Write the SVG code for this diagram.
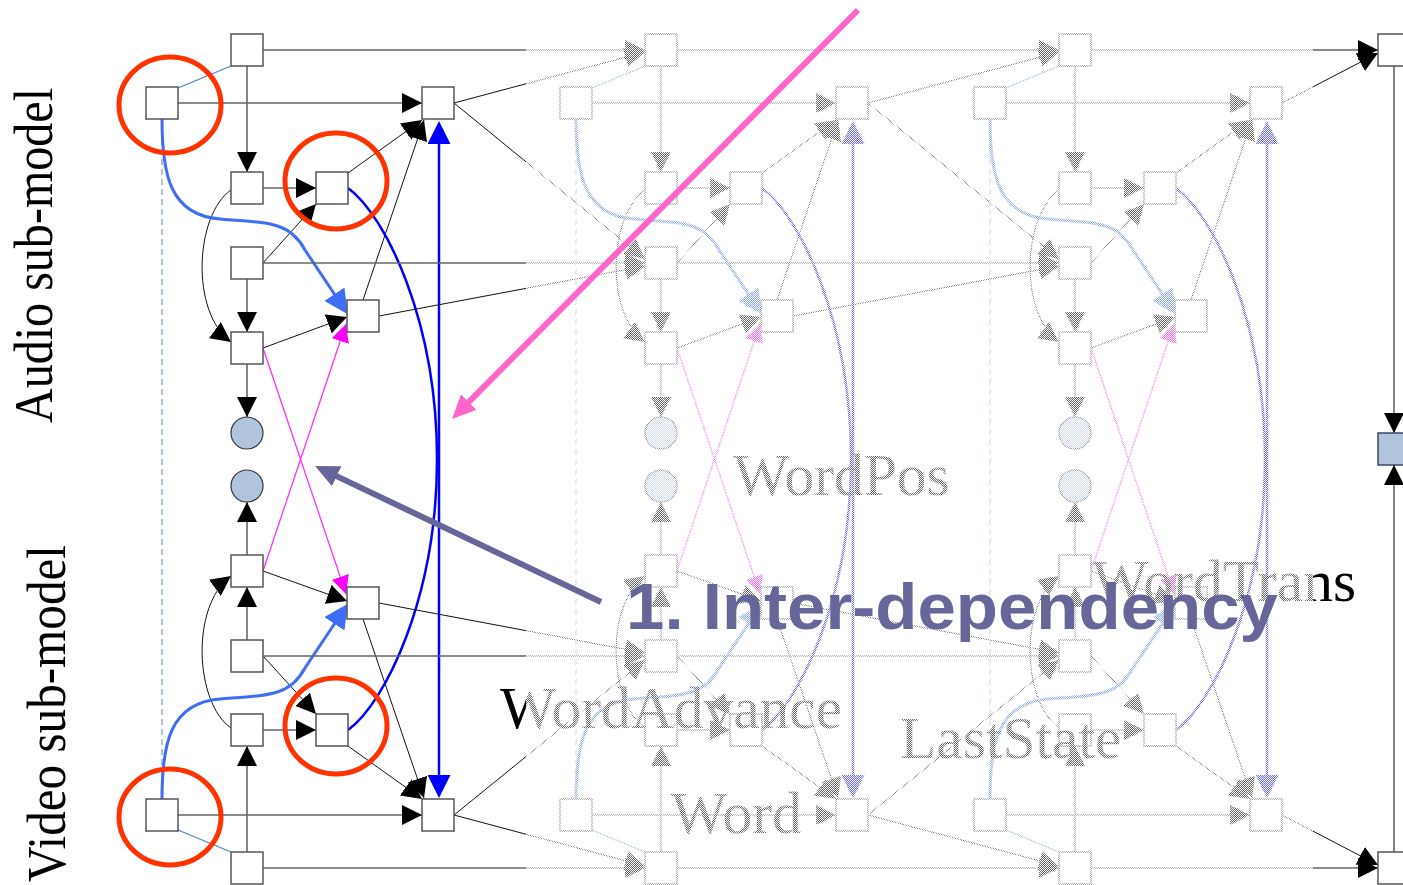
<svg xmlns="http://www.w3.org/2000/svg" width="1403" height="885" viewBox="0 0 1403 885">
<defs>
<style>
.box{fill:#fff;stroke:#555;stroke-width:1.5}
.obs{fill:#b0c4de;stroke:#333;stroke-width:1.2}
.st{fill:none;stroke:#666;stroke-width:1.6}
.dg{fill:none;stroke:#111;stroke-width:1}
.lb{fill:none;stroke:#4f7fd6;stroke-width:1.2}
.dash{fill:none;stroke:#8fb0e0;stroke-width:1.5;stroke-dasharray:6 4}
.bc{fill:none;stroke:#3d6ef5;stroke-width:3}
.db{fill:none;stroke:#0000ff;stroke-width:2.5}
.mg{fill:none;stroke:#ff22ff;stroke-width:1.2}
.lbl{font-family:"Liberation Serif","Times New Roman",serif;font-size:59.5px;fill:#000}
.side{font-family:"Liberation Serif","Times New Roman",serif;font-size:54px;fill:#000}
.ring{fill:none;stroke:#ff3300;stroke-width:5}
</style>
<marker id="ah" viewBox="0 0 20 20" refX="20" refY="10" markerWidth="20" markerHeight="20" markerUnits="userSpaceOnUse" orient="auto"><path d="M0,0 L20,10 L0,20 z" fill="#000"/></marker>
<marker id="ahm" viewBox="0 0 18 18" refX="18" refY="9" markerWidth="18" markerHeight="18" markerUnits="userSpaceOnUse" orient="auto"><path d="M0,0 L18,9 L0,18 z" fill="#ff00ff"/></marker>
<marker id="ahb" viewBox="0 0 24 24" refX="1" refY="12" markerWidth="24" markerHeight="24" markerUnits="userSpaceOnUse" orient="auto"><path d="M0,0 L24,12 L0,24 z" fill="#3d6ef5"/></marker>
<marker id="ahd" viewBox="0 0 23 23" refX="1" refY="11.5" markerWidth="23" markerHeight="23" markerUnits="userSpaceOnUse" orient="auto-start-reverse"><path d="M0,0 L23,11.5 L0,23 z" fill="#0000ff"/></marker>
<marker id="ahp" viewBox="0 0 24 22" refX="2" refY="11" markerWidth="24" markerHeight="22" markerUnits="userSpaceOnUse" orient="auto"><path d="M0,0 L24,11 L0,22 z" fill="#ff66cc"/></marker>
<marker id="ahv" viewBox="0 0 24 22" refX="2" refY="11" markerWidth="24" markerHeight="22" markerUnits="userSpaceOnUse" orient="auto"><path d="M0,0 L24,11 L0,22 z" fill="#666699"/></marker>
<!-- stipple screen used to grey out the repeated middle slices -->
<pattern id="halftone" width="2" height="2" patternUnits="userSpaceOnUse">
<rect width="2" height="2" fill="#fff" fill-opacity="0.4"/>
<rect width="1" height="1" fill="#fff"/>
<rect x="1" y="1" width="1" height="1" fill="#fff"/>
</pattern>
</defs>
<rect width="1403" height="885" fill="#fff"/>

<g id="connectors">
<!-- slice 0: edges inside the slice -->
<g id="edges-t0">
<line class="dash" x1="162" y1="119" x2="162" y2="799"/>
<line class="st" x1="178" y1="103" x2="422" y2="103" marker-end="url(#ah)"/>
<line class="lb" x1="178" y1="88" x2="231" y2="66"/>
<line class="st" x1="247" y1="66" x2="247" y2="172" marker-end="url(#ah)"/>
<line class="st" x1="263" y1="188" x2="316" y2="188" marker-end="url(#ah)"/>
<line class="dg" x1="263" y1="263" x2="316" y2="204" marker-end="url(#ah)"/>
<line class="dg" x1="348" y1="173" x2="422" y2="120" marker-end="url(#ah)"/>
<line class="dg" x1="363" y1="300" x2="424" y2="120" marker-end="url(#ah)"/>
<path class="dg" d="M231,190 C195,215 190,312 231,342" marker-end="url(#ah)"/>
<line class="st" x1="247" y1="279" x2="247" y2="332" marker-end="url(#ah)"/>
<line class="dg" x1="263" y1="348" x2="347" y2="317" marker-end="url(#ah)"/>
<line class="st" x1="247" y1="364" x2="247" y2="417" marker-end="url(#ah)"/>
<line class="mg" x1="263" y1="348" x2="346" y2="594" marker-end="url(#ahm)"/>
<line class="mg" x1="263" y1="571" x2="346" y2="324" marker-end="url(#ahm)"/>
<line class="st" x1="247" y1="555" x2="247" y2="502" marker-end="url(#ah)"/>
<line class="dg" x1="263" y1="571" x2="347" y2="601" marker-end="url(#ah)"/>
<line class="dg" x1="363" y1="619" x2="424" y2="798" marker-end="url(#ah)"/>
<line class="dg" x1="348" y1="746" x2="422" y2="799" marker-end="url(#ah)"/>
<line class="dg" x1="263" y1="656" x2="316" y2="714" marker-end="url(#ah)"/>
<line class="st" x1="263" y1="730" x2="316" y2="730" marker-end="url(#ah)"/>
<line class="st" x1="247" y1="852" x2="247" y2="746" marker-end="url(#ah)"/>
<line class="st" x1="247" y1="640" x2="247" y2="587" marker-end="url(#ah)"/>
<path class="dg" d="M231,728 C195,703 190,606 231,576" marker-end="url(#ah)"/>
<line class="st" x1="178" y1="815" x2="422" y2="815" marker-end="url(#ah)"/>
<line class="lb" x1="178" y1="830" x2="231" y2="852"/>
<path class="bc" d="M162,119 C162,175 170,215 220,219 C270,223 290,222 305,250 L335,295" marker-end="url(#ahb)"/>
<path class="bc" d="M162,799 C162,743 170,703 220,699 C270,695 290,696 305,668 L335,623" marker-end="url(#ahb)"/>
<path class="db" d="M348,188 C385,215 437,320 437,459 C437,598 385,703 348,730"/>
<line class="db" x1="439" y1="143" x2="439" y2="776" marker-start="url(#ahd)" marker-end="url(#ahd)"/>
<!-- into slice 1 -->
<line class="st" x1="263" y1="50" x2="645" y2="50" marker-end="url(#ah)"/>
<line class="dg" x1="454" y1="103" x2="645" y2="52" marker-end="url(#ah)"/>
<line class="st" x1="263" y1="263" x2="645" y2="263" marker-end="url(#ah)"/>
<line class="dg" x1="379" y1="316" x2="645" y2="266" marker-end="url(#ah)"/>
<line class="dg" x1="454" y1="103" x2="645" y2="259" marker-end="url(#ah)"/>
<line class="st" x1="263" y1="656" x2="645" y2="656" marker-end="url(#ah)"/>
<line class="dg" x1="379" y1="603" x2="645" y2="653" marker-end="url(#ah)"/>
<line class="dg" x1="454" y1="815" x2="645" y2="660" marker-end="url(#ah)"/>
<line class="st" x1="263" y1="868" x2="645" y2="868" marker-end="url(#ah)"/>
<line class="dg" x1="454" y1="815" x2="645" y2="866" marker-end="url(#ah)"/>
</g>
<!-- slice 1 -->
<g id="edges-t1" transform="translate(414,0)">
<line class="dash" x1="162" y1="119" x2="162" y2="799"/>
<line class="st" x1="178" y1="103" x2="422" y2="103" marker-end="url(#ah)"/>
<line class="lb" x1="178" y1="88" x2="231" y2="66"/>
<line class="st" x1="247" y1="66" x2="247" y2="172" marker-end="url(#ah)"/>
<line class="st" x1="263" y1="188" x2="316" y2="188" marker-end="url(#ah)"/>
<line class="dg" x1="263" y1="263" x2="316" y2="204" marker-end="url(#ah)"/>
<line class="dg" x1="348" y1="173" x2="422" y2="120" marker-end="url(#ah)"/>
<line class="dg" x1="363" y1="300" x2="424" y2="120" marker-end="url(#ah)"/>
<path class="dg" d="M231,190 C195,215 190,312 231,342" marker-end="url(#ah)"/>
<line class="st" x1="247" y1="279" x2="247" y2="332" marker-end="url(#ah)"/>
<line class="dg" x1="263" y1="348" x2="347" y2="317" marker-end="url(#ah)"/>
<line class="st" x1="247" y1="364" x2="247" y2="417" marker-end="url(#ah)"/>
<line class="mg" x1="263" y1="348" x2="346" y2="594" marker-end="url(#ahm)"/>
<line class="mg" x1="263" y1="571" x2="346" y2="324" marker-end="url(#ahm)"/>
<line class="st" x1="247" y1="555" x2="247" y2="502" marker-end="url(#ah)"/>
<line class="dg" x1="263" y1="571" x2="347" y2="601" marker-end="url(#ah)"/>
<line class="dg" x1="363" y1="619" x2="424" y2="798" marker-end="url(#ah)"/>
<line class="dg" x1="348" y1="746" x2="422" y2="799" marker-end="url(#ah)"/>
<line class="dg" x1="263" y1="656" x2="316" y2="714" marker-end="url(#ah)"/>
<line class="st" x1="263" y1="730" x2="316" y2="730" marker-end="url(#ah)"/>
<line class="st" x1="247" y1="852" x2="247" y2="746" marker-end="url(#ah)"/>
<line class="st" x1="247" y1="640" x2="247" y2="587" marker-end="url(#ah)"/>
<path class="dg" d="M231,728 C195,703 190,606 231,576" marker-end="url(#ah)"/>
<line class="st" x1="178" y1="815" x2="422" y2="815" marker-end="url(#ah)"/>
<line class="lb" x1="178" y1="830" x2="231" y2="852"/>
<path class="bc" d="M162,119 C162,175 170,215 220,219 C270,223 290,222 305,250 L335,295" marker-end="url(#ahb)"/>
<path class="bc" d="M162,799 C162,743 170,703 220,699 C270,695 290,696 305,668 L335,623" marker-end="url(#ahb)"/>
<path class="db" d="M348,188 C385,215 437,320 437,459 C437,598 385,703 348,730"/>
<line class="db" x1="439" y1="143" x2="439" y2="776" marker-start="url(#ahd)" marker-end="url(#ahd)"/>
<line class="st" x1="263" y1="50" x2="645" y2="50" marker-end="url(#ah)"/>
<line class="dg" x1="454" y1="103" x2="645" y2="52" marker-end="url(#ah)"/>
<line class="st" x1="263" y1="263" x2="645" y2="263" marker-end="url(#ah)"/>
<line class="dg" x1="379" y1="316" x2="645" y2="266" marker-end="url(#ah)"/>
<line class="dg" x1="454" y1="103" x2="645" y2="259" marker-end="url(#ah)"/>
<line class="st" x1="263" y1="656" x2="645" y2="656" marker-end="url(#ah)"/>
<line class="dg" x1="379" y1="603" x2="645" y2="653" marker-end="url(#ah)"/>
<line class="dg" x1="454" y1="815" x2="645" y2="660" marker-end="url(#ah)"/>
<line class="st" x1="263" y1="868" x2="645" y2="868" marker-end="url(#ah)"/>
<line class="dg" x1="454" y1="815" x2="645" y2="866" marker-end="url(#ah)"/>
</g>
<!-- slice 2 -->
<g id="edges-t2" transform="translate(828,0)">
<line class="dash" x1="162" y1="119" x2="162" y2="799"/>
<line class="st" x1="178" y1="103" x2="422" y2="103" marker-end="url(#ah)"/>
<line class="lb" x1="178" y1="88" x2="231" y2="66"/>
<line class="st" x1="247" y1="66" x2="247" y2="172" marker-end="url(#ah)"/>
<line class="st" x1="263" y1="188" x2="316" y2="188" marker-end="url(#ah)"/>
<line class="dg" x1="263" y1="263" x2="316" y2="204" marker-end="url(#ah)"/>
<line class="dg" x1="348" y1="173" x2="422" y2="120" marker-end="url(#ah)"/>
<line class="dg" x1="363" y1="300" x2="424" y2="120" marker-end="url(#ah)"/>
<path class="dg" d="M231,190 C195,215 190,312 231,342" marker-end="url(#ah)"/>
<line class="st" x1="247" y1="279" x2="247" y2="332" marker-end="url(#ah)"/>
<line class="dg" x1="263" y1="348" x2="347" y2="317" marker-end="url(#ah)"/>
<line class="st" x1="247" y1="364" x2="247" y2="417" marker-end="url(#ah)"/>
<line class="mg" x1="263" y1="348" x2="346" y2="594" marker-end="url(#ahm)"/>
<line class="mg" x1="263" y1="571" x2="346" y2="324" marker-end="url(#ahm)"/>
<line class="st" x1="247" y1="555" x2="247" y2="502" marker-end="url(#ah)"/>
<line class="dg" x1="263" y1="571" x2="347" y2="601" marker-end="url(#ah)"/>
<line class="dg" x1="363" y1="619" x2="424" y2="798" marker-end="url(#ah)"/>
<line class="dg" x1="348" y1="746" x2="422" y2="799" marker-end="url(#ah)"/>
<line class="dg" x1="263" y1="656" x2="316" y2="714" marker-end="url(#ah)"/>
<line class="st" x1="263" y1="730" x2="316" y2="730" marker-end="url(#ah)"/>
<line class="st" x1="247" y1="852" x2="247" y2="746" marker-end="url(#ah)"/>
<line class="st" x1="247" y1="640" x2="247" y2="587" marker-end="url(#ah)"/>
<path class="dg" d="M231,728 C195,703 190,606 231,576" marker-end="url(#ah)"/>
<line class="st" x1="178" y1="815" x2="422" y2="815" marker-end="url(#ah)"/>
<line class="lb" x1="178" y1="830" x2="231" y2="852"/>
<path class="bc" d="M162,119 C162,175 170,215 220,219 C270,223 290,222 305,250 L335,295" marker-end="url(#ahb)"/>
<path class="bc" d="M162,799 C162,743 170,703 220,699 C270,695 290,696 305,668 L335,623" marker-end="url(#ahb)"/>
<path class="db" d="M348,188 C385,215 437,320 437,459 C437,598 385,703 348,730"/>
<line class="db" x1="439" y1="143" x2="439" y2="776" marker-start="url(#ahd)" marker-end="url(#ahd)"/>
</g>
<!-- last slice into the output column -->
<g id="edges-out">
<line class="st" x1="1091" y1="50" x2="1378" y2="50" marker-end="url(#ah)"/>
<line class="dg" x1="1282" y1="103" x2="1378" y2="53" marker-end="url(#ah)"/>
<line class="st" x1="1091" y1="868" x2="1378" y2="868" marker-end="url(#ah)"/>
<line class="dg" x1="1282" y1="815" x2="1378" y2="865" marker-end="url(#ah)"/>
<line class="st" x1="1394" y1="66" x2="1394" y2="433" marker-end="url(#ah)"/>
<line class="st" x1="1394" y1="852" x2="1394" y2="465" marker-end="url(#ah)"/>
</g>
</g>

<g id="slice-0">
<g id="t0-A"><rect class="box" x="231" y="34" width="32" height="32"/></g>
<g id="t0-B"><rect class="box" x="146" y="87" width="32" height="32"/></g>
<g id="t0-C"><rect class="box" x="422" y="87" width="32" height="32"/></g>
<g id="t0-D"><rect class="box" x="231" y="172" width="32" height="32"/></g>
<g id="t0-E"><rect class="box" x="316" y="172" width="32" height="32"/></g>
<g id="t0-F"><rect class="box" x="231" y="247" width="32" height="32"/></g>
<g id="t0-G"><rect class="box" x="347" y="300" width="32" height="32"/></g>
<g id="t0-H"><rect class="box" x="231" y="332" width="32" height="32"/></g>
<g id="t0-obsA"><circle class="obs" cx="247" cy="433" r="16"/></g>
<g id="t0-obsV"><circle class="obs" cx="247" cy="486" r="16"/></g>
<g id="t0-I"><rect class="box" x="231" y="555" width="32" height="32"/></g>
<g id="t0-J"><rect class="box" x="347" y="587" width="32" height="32"/></g>
<g id="t0-K"><rect class="box" x="231" y="640" width="32" height="32"/></g>
<g id="t0-L"><rect class="box" x="231" y="714" width="32" height="32"/></g>
<g id="t0-M"><rect class="box" x="316" y="714" width="32" height="32"/></g>
<g id="t0-N"><rect class="box" x="146" y="799" width="32" height="32"/></g>
<g id="t0-O"><rect class="box" x="422" y="799" width="32" height="32"/></g>
<g id="t0-P"><rect class="box" x="231" y="852" width="32" height="32"/></g>
</g>
<g id="slice-1" transform="translate(414,0)">
<g id="t1-A"><rect class="box" x="231" y="34" width="32" height="32"/></g>
<g id="t1-B"><rect class="box" x="146" y="87" width="32" height="32"/></g>
<g id="t1-C"><rect class="box" x="422" y="87" width="32" height="32"/></g>
<g id="t1-D"><rect class="box" x="231" y="172" width="32" height="32"/></g>
<g id="t1-E"><rect class="box" x="316" y="172" width="32" height="32"/></g>
<g id="t1-F"><rect class="box" x="231" y="247" width="32" height="32"/></g>
<g id="t1-G"><rect class="box" x="347" y="300" width="32" height="32"/></g>
<g id="t1-H"><rect class="box" x="231" y="332" width="32" height="32"/></g>
<g id="t1-obsA"><circle class="obs" cx="247" cy="433" r="16"/></g>
<g id="t1-obsV"><circle class="obs" cx="247" cy="486" r="16"/></g>
<g id="t1-I"><rect class="box" x="231" y="555" width="32" height="32"/></g>
<g id="t1-J"><rect class="box" x="347" y="587" width="32" height="32"/></g>
<g id="t1-K"><rect class="box" x="231" y="640" width="32" height="32"/></g>
<g id="t1-L"><rect class="box" x="231" y="714" width="32" height="32"/></g>
<g id="t1-M"><rect class="box" x="316" y="714" width="32" height="32"/></g>
<g id="t1-N"><rect class="box" x="146" y="799" width="32" height="32"/></g>
<g id="t1-O"><rect class="box" x="422" y="799" width="32" height="32"/></g>
<g id="t1-P"><rect class="box" x="231" y="852" width="32" height="32"/></g>
</g>
<g id="slice-2" transform="translate(828,0)">
<g id="t2-A"><rect class="box" x="231" y="34" width="32" height="32"/></g>
<g id="t2-B"><rect class="box" x="146" y="87" width="32" height="32"/></g>
<g id="t2-C"><rect class="box" x="422" y="87" width="32" height="32"/></g>
<g id="t2-D"><rect class="box" x="231" y="172" width="32" height="32"/></g>
<g id="t2-E"><rect class="box" x="316" y="172" width="32" height="32"/></g>
<g id="t2-F"><rect class="box" x="231" y="247" width="32" height="32"/></g>
<g id="t2-G"><rect class="box" x="347" y="300" width="32" height="32"/></g>
<g id="t2-H"><rect class="box" x="231" y="332" width="32" height="32"/></g>
<g id="t2-obsA"><circle class="obs" cx="247" cy="433" r="16"/></g>
<g id="t2-obsV"><circle class="obs" cx="247" cy="486" r="16"/></g>
<g id="t2-I"><rect class="box" x="231" y="555" width="32" height="32"/></g>
<g id="t2-J"><rect class="box" x="347" y="587" width="32" height="32"/></g>
<g id="t2-K"><rect class="box" x="231" y="640" width="32" height="32"/></g>
<g id="t2-L"><rect class="box" x="231" y="714" width="32" height="32"/></g>
<g id="t2-M"><rect class="box" x="316" y="714" width="32" height="32"/></g>
<g id="t2-N"><rect class="box" x="146" y="799" width="32" height="32"/></g>
<g id="t2-O"><rect class="box" x="422" y="799" width="32" height="32"/></g>
<g id="t2-P"><rect class="box" x="231" y="852" width="32" height="32"/></g>
</g>
<g id="out-top"><rect class="box" x="1378" y="34" width="32" height="32"/></g>
<g id="out-mid"><rect x="1378" y="433" width="32" height="32" fill="#b0c4de" stroke="#3a4660" stroke-width="1.5"/></g>
<g id="out-bot"><rect class="box" x="1378" y="852" width="32" height="32"/></g>

<g id="variable-labels">
<text class="lbl" x="733" y="495">WordPos</text>
<text class="lbl" x="1092" y="601">WordTrans</text>
<text class="lbl" x="500" y="728">WordAdvance</text>
<text class="lbl" x="900" y="758">LastState</text>
<text class="lbl" x="671" y="833">Word</text>
</g>

<!-- greyed-out middle slices -->
<rect id="fade" x="526" y="0" width="787" height="885" fill="url(#halftone)"/>

<g id="side-labels">
<text class="side" transform="translate(52,423) rotate(-90)" textLength="335" lengthAdjust="spacingAndGlyphs">Audio sub-model</text>
<text class="side" transform="translate(65,882) rotate(-90)" textLength="337" lengthAdjust="spacingAndGlyphs">Video sub-model</text>
</g>

<g id="highlights">
<ellipse class="ring" cx="170" cy="105" rx="51" ry="48"/>
<ellipse class="ring" cx="336" cy="181" rx="51" ry="48"/>
<ellipse class="ring" cx="336" cy="726" rx="51" ry="48"/>
<ellipse class="ring" cx="170" cy="817" rx="51" ry="48"/>
</g>

<g id="callouts">
<line x1="858" y1="10" x2="467.5" y2="403.4" stroke="#ff66cc" stroke-width="6" marker-end="url(#ahp)"/>
<line x1="601" y1="602" x2="334.9" y2="475.4" stroke="#666699" stroke-width="6" marker-end="url(#ahv)"/>
<text x="626" y="629" font-family="'Liberation Sans', Arial, sans-serif" font-weight="bold" font-size="64" fill="#666699" textLength="652" lengthAdjust="spacingAndGlyphs">1. Inter-dependency</text>
</g>
</svg>
